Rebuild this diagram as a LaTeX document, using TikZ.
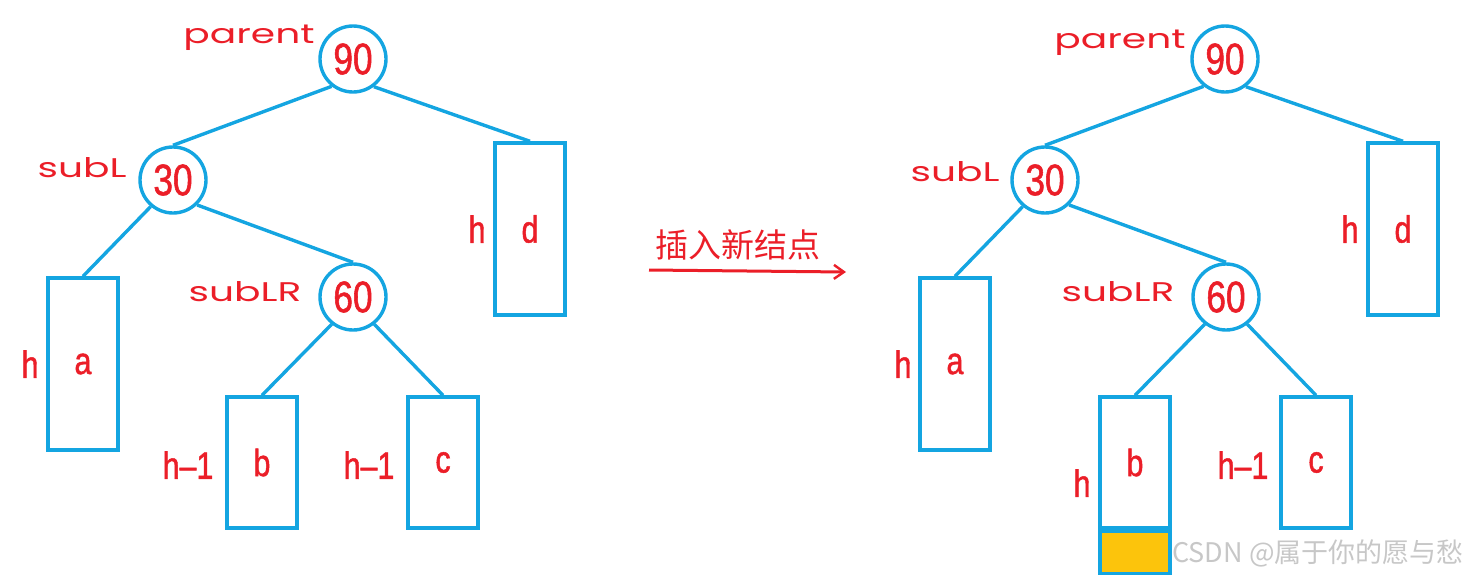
\documentclass[tikz,border=0pt]{standalone}
\usepackage{fontspec}
\usetikzlibrary{arrows.meta}
\newfontfamily\numfont[FakeStretch=0.8,FakeBold=1.2]{Liberation Sans}
\newfontfamily\labfont[FakeStretch=1.45]{Poppins}
\newfontfamily\cjkfont{Noto Sans CJK SC}
\definecolor{treeblue}{RGB}{20,165,225}
\definecolor{labred}{RGB}{235,30,40}
\definecolor{gold}{RGB}{252,196,12}
\tikzset{
  tnode/.style={circle,draw=treeblue,line width=3.4pt,minimum size=66pt,inner sep=0pt,fill=white,
    text=labred,font=\numfont\fontsize{44}{44}\selectfont},
  sub/.style={rectangle,draw=treeblue,line width=3.4pt,minimum width=70pt,inner sep=0pt,
    text=labred,font=\numfont\fontsize{38}{38}\selectfont},
  edge/.style={draw=treeblue,line width=3.4pt},
  hlab/.style={text=labred,font=\numfont\fontsize{38}{38}\selectfont,inner sep=0pt},
  nlab/.style={text=labred,font=\labfont\fontsize{27}{27}\selectfont,inner sep=0pt},
}
\begin{document}
\begin{tikzpicture}[x=1pt,y=-1pt]
\useasboundingbox (0,0) rectangle (1475,582);
% ---------- left tree ----------
\node[tnode] (L90) at (353,59) {90};
\node[tnode] (L30) at (173,180) {30};
\node[tnode] (L60) at (353,297) {60};
\node[sub,minimum height=172pt] (Ld) at (530,229) {d};
\node[sub,minimum height=172pt] (La) at (83,364) {a};
\node[sub,minimum height=131pt] (Lb) at (262,462.5) {b};
\node[sub,minimum height=131pt] (Lc) at (443,462.5) {c};
\draw[edge] (L90.232) -- (L30.north);
\draw[edge] (L90.307) -- (Ld.north);
\draw[edge] (L30.230) -- (La.north);
\draw[edge] (L30.314) -- (L60.north);
\draw[edge] (L60.232) -- (Lb.north);
\draw[edge] (L60.308) -- (Lc.north);
\node[nlab] (Lp) at (249,38) {parent};
\node[nlab] (Ll) at (82,168) {subL};
\node[nlab] (Llr) at (245,292) {subLR};
\node[hlab] (Lhd) at (477,229) {h};
\node[hlab] (Lha) at (30,364) {h};
\node[hlab] (Lhb) at (188,465) {h–1};
\node[hlab] (Lhc) at (369,465) {h–1};
% ---------- arrow ----------
\coordinate (A1) at (649,270);
\coordinate (A2) at (846,272);
\draw[draw=labred,line width=3pt,-{Straight Barb[length=10pt,width=14pt,line width=2.4pt]}] (A1) -- (A2);
\node[text=labred,font=\cjkfont\fontsize{33}{33}\selectfont,inner sep=0pt] (ins) at (738,245) {插入新结点};
% ---------- right tree ----------
\node[tnode] (R90) at (1225,59) {90};
\node[tnode] (R30) at (1045,180) {30};
\node[tnode] (R60) at (1226,297) {60};
\node[sub,minimum height=172pt] (Rd) at (1403,229) {d};
\node[sub,minimum height=172pt] (Ra) at (955,364) {a};
\node[sub,minimum height=131pt] (Rb) at (1135,462.5) {b};
\node[sub,minimum height=131pt] (Rc) at (1316,462.5) {c};
\node[rectangle,draw=treeblue,line width=3.4pt,fill=gold,minimum width=70pt,minimum height=42pt,inner sep=0pt,anchor=north] (Rn) at (Rb.south) {};
\draw[edge] (R90.232) -- (R30.north);
\draw[edge] (R90.307) -- (Rd.north);
\draw[edge] (R30.230) -- (Ra.north);
\draw[edge] (R30.314) -- (R60.north);
\draw[edge] (R60.232) -- (Rb.north);
\draw[edge] (R60.308) -- (Rc.north);
\node[nlab] (Rp) at (1120,43) {parent};
\node[nlab] (Rl) at (955,172) {subL};
\node[nlab] (Rlr) at (1118,292) {subLR};
\node[hlab] (Rhd) at (1350,229) {h};
\node[hlab] (Rha) at (903,364) {h};
\node[hlab] (Rhb) at (1082,483) {h};
\node[hlab] (Rhc) at (1243,465) {h–1};
% ---------- watermark ----------
\node[text=black!22,font=\cjkfont\fontsize{27}{27}\selectfont,inner sep=0pt] (wm) at (1318,553) {CSDN @属于你的愿与愁};
\end{tikzpicture}
\end{document}
